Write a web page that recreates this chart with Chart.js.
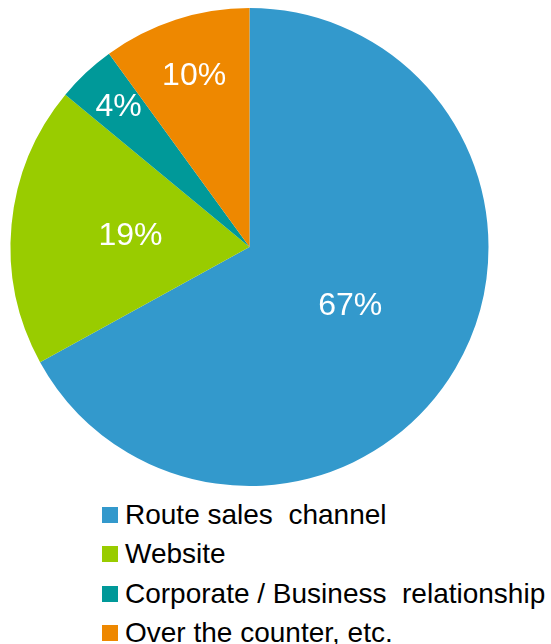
<!DOCTYPE html>
<html>
<head>
<meta charset="utf-8">
<script src="https://cdn.jsdelivr.net/npm/chart.js@4/dist/chart.umd.min.js"></script>
<style>
  html, body { margin: 0; padding: 0; background: #fff; }
  #wrap { position: relative; width: 551px; height: 495px; }
  #legend { list-style: none; margin: 0; padding: 0 0 0 102px; font-family: "Liberation Sans", Arial, sans-serif; font-size: 28px; color: #000; }
  #legend li { height: 39.5px; display: flex; align-items: center; white-space: pre; }
  #legend .box { width: 16px; height: 16px; margin-right: 7px; flex: none; }
</style>
</head>
<body>
<div id="wrap"><canvas id="grafico"></canvas></div>
<ul id="legend"></ul>
<script>
const canais = ['Route sales  channel', 'Website', 'Corporate / Business  relationship', 'Over the counter, etc.'];
const percentuais = [67, 19, 4, 10];
const cores = ['#3399cc', '#99cc00', '#009999', '#ee8800'];

// distance of each label from the centre, as a fraction of the radius
const posRotulo = [0.49, 0.5, 0.8, 0.75];

const rotulos = {
    id: 'rotulos',
    afterDatasetsDraw(chart) {
        const ctx = chart.ctx;
        const arcos = chart.getDatasetMeta(0).data;
        ctx.save();
        ctx.fillStyle = '#fff';
        ctx.font = '32px "Liberation Sans", Arial, sans-serif';
        ctx.textAlign = 'center';
        ctx.textBaseline = 'middle';
        arcos.forEach((arco, i) => {
            const p = arco.getProps(['x', 'y', 'startAngle', 'endAngle', 'outerRadius'], true);
            const meio = (p.startAngle + p.endAngle) / 2;
            const r = p.outerRadius * posRotulo[i];
            ctx.fillText(percentuais[i] + '%', p.x + Math.cos(meio) * r, p.y + Math.sin(meio) * r);
        });
        ctx.restore();
    }
};

const grafico = new Chart(document.getElementById('grafico'), {
    type: 'pie',
    data: {
        labels: canais,
        datasets: [{
            data: percentuais,
            backgroundColor: cores,
            borderWidth: 0
        }]
    },
    options: {
        responsive: true,
        maintainAspectRatio: false,
        animation: false,
        layout: { padding: { left: 10, right: 62, top: 8, bottom: 9 } },
        plugins: {
            legend: { display: false },
            tooltip: { enabled: false }
        }
    },
    plugins: [rotulos]
});

// legend list under the pie
const lista = document.getElementById('legend');
canais.forEach((nome, i) => {
    const li = document.createElement('li');
    const box = document.createElement('span');
    box.className = 'box';
    box.style.background = cores[i];
    li.appendChild(box);
    li.appendChild(document.createTextNode(nome));
    lista.appendChild(li);
});
</script>
</body>
</html>
